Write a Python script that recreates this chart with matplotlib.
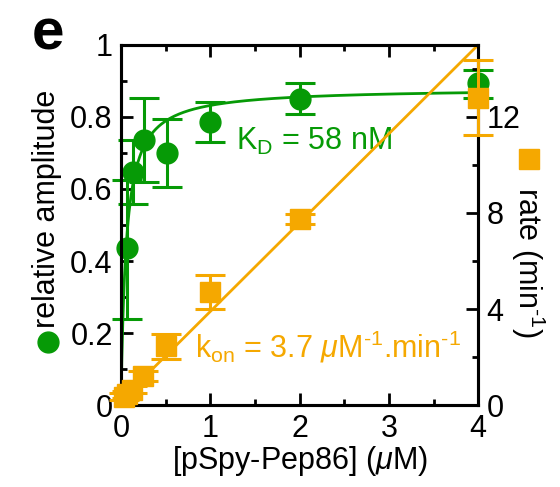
import matplotlib
matplotlib.use("Agg")
import matplotlib.pyplot as plt
import numpy as np
from matplotlib.lines import Line2D
from matplotlib.ticker import MultipleLocator, FormatStrFormatter

plt.rcParams['font.family'] = ['Liberation Sans', 'DejaVu Sans']
plt.rcParams['mathtext.fontset'] = 'custom'
plt.rcParams['mathtext.rm'] = 'Liberation Sans'
plt.rcParams['mathtext.it'] = 'Liberation Sans:italic'

GREEN = '#069a06'
ORANGE = '#f5a800'
FS = 22

# relative amplitude (left axis)
amp_conc = [0.07, 0.13, 0.26, 0.52, 1.0, 2.0, 4.0]
amp_val = [0.436, 0.647, 0.736, 0.700, 0.786, 0.850, 0.893]
amp_lo = [0.196, 0.089, 0.116, 0.095, 0.055, 0.042, 0.040]
amp_hi = [0.189, 0.089, 0.117, 0.094, 0.056, 0.045, 0.037]
amp_max = 0.88
kd = 0.058

# observed rate (right axis)
rate_conc = [0.03, 0.0625, 0.125, 0.25, 0.5, 1.0, 2.0, 4.0]
rate_val = [0.35, 0.45, 0.65, 1.22, 2.45, 4.72, 7.75, 12.8]
rate_err = [0.15, 0.15, 0.15, 0.2, 0.52, 0.7, 0.2, 1.55]
kon = 3.7
koff = 0.2

fig = plt.figure(figsize=(5.6, 4.87), dpi=100)
ax = fig.add_axes([0.216, 0.168, 0.638, 0.740])
ax2 = ax.twinx()

xfit = np.linspace(0, 4, 400)
ax.plot(xfit, amp_max * xfit / (kd + xfit), color=GREEN, lw=2.0, zorder=2)
ax.errorbar(amp_conc, amp_val, yerr=[amp_lo, amp_hi], fmt='o', color=GREEN,
            ms=15, capsize=11, capthick=2.2, elinewidth=2.2, zorder=3,
            clip_on=False)

ax2.plot(xfit, kon * xfit + koff, color=ORANGE, lw=2.0, zorder=2)
ax2.errorbar(rate_conc, rate_val, yerr=rate_err, fmt='s', color=ORANGE,
             ms=15, capsize=11, capthick=2.2, elinewidth=2.2, zorder=3,
             clip_on=False)

ax.set_xlim(0, 4)
ax.set_ylim(0, 1)
ax2.set_ylim(0, 15)
ax.set_zorder(1)
ax2.set_zorder(2)
ax.patch.set_visible(False)

ax.xaxis.set_major_locator(MultipleLocator(1))
ax.xaxis.set_minor_locator(MultipleLocator(0.5))
ax.yaxis.set_major_locator(MultipleLocator(0.2))
ax.yaxis.set_minor_locator(MultipleLocator(0.1))
ax2.yaxis.set_major_locator(MultipleLocator(4))
ax2.yaxis.set_minor_locator(MultipleLocator(2))
ax.xaxis.set_major_formatter(FormatStrFormatter('%g'))
ax.yaxis.set_major_formatter(FormatStrFormatter('%g'))
ax2.yaxis.set_major_formatter(FormatStrFormatter('%g'))

for a in (ax, ax2):
    for s in a.spines.values():
        s.set_linewidth(2.2)
    a.tick_params(which='major', direction='in', length=8.5, width=2.0,
                  labelsize=FS, pad=6)
    a.tick_params(which='minor', direction='in', length=4.5, width=2.0)
ax.tick_params(which='both', top=True, right=False)
ax2.tick_params(which='both', right=True, left=False, top=False)

ax.set_xlabel(r'[pSpy-Pep86] ($\mathit{\mu}$M)', fontsize=FS, labelpad=0)

# left label with green circle
fig.text(0.084, 0.571, 'relative amplitude', rotation=90, fontsize=FS,
         ha='center', va='center')
fig.add_artist(Line2D([0.085], [0.298], marker='o', color=GREEN, ms=15,
                      transform=fig.transFigure))
# right label with orange square
fig.text(0.943, 0.462, r'rate (min$^{\text{-1}}$)', rotation=270, fontsize=FS,
         ha='center', va='center')
fig.add_artist(Line2D([0.945], [0.674], marker='s', color=ORANGE, ms=15,
                      transform=fig.transFigure))

ax.text(1.29, 0.708, r'K$_\mathrm{D}$ = 58 nM', color=GREEN, fontsize=FS,
        ha='left', va='baseline', zorder=5)
ax2.text(0.83, 2.0,
         r'k$_\mathrm{on}$ = 3.7 $\mathit{\mu}$M$^{\text{-1}}$.min$^{\text{-1}}$',
         color=ORANGE, fontsize=FS, ha='left', va='baseline', zorder=5)

fig.text(0.086, 0.93, 'e', fontsize=42, fontweight='bold', ha='center',
         va='center')

fig.savefig('out.png', dpi=100)
